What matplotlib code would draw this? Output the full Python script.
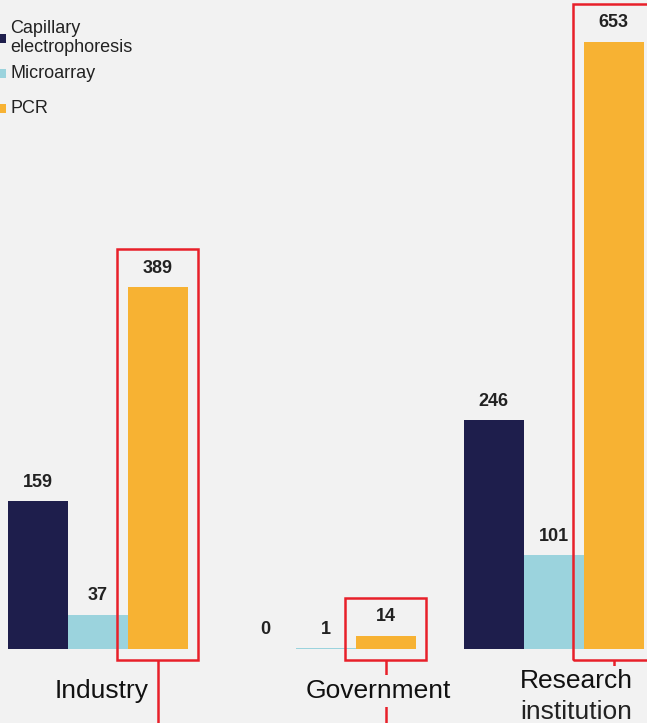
import matplotlib
matplotlib.use("Agg")
import matplotlib.pyplot as plt
from matplotlib.patches import Rectangle
import numpy as np

# data
categories = ["Industry", "Government", "Research\ninstitution"]
series_names = ["Capillary\nelectrophoresis", "Microarray", "PCR"]
capillary = [159, 0, 246]
microarray = [37, 1, 101]
pcr = [389, 14, 653]

colors = ["#1e1e4c", "#9bd3dd", "#f7b233"]
bg = "#f2f2f2"
red = "#e8202a"

plt.rcParams["font.family"] = ["Liberation Sans", "DejaVu Sans"]

W, H = 647, 723
K = 0.93          # pixels per unit on the y axis
BASE = 649        # pixel row of the baseline

fig = plt.figure(figsize=(W / 100, H / 100), dpi=100, facecolor=bg)
ax = fig.add_axes([0, 0, 1, 1])
ax.set_facecolor(bg)
ax.set_xlim(-97.5 / 60, -97.5 / 60 + W / 60)
ax.set_ylim(-(H - BASE) / K, BASE / K)
ax.axis("off")


def py(p):
    # pixel row -> data y
    return (BASE - p) / K


centers = np.arange(len(categories)) * 3.8
for j, vals in enumerate([capillary, microarray, pcr]):
    xs = centers + (j - 1)
    ax.bar(xs, vals, width=1.0, color=colors[j], zorder=2)
    for x, v in zip(xs, vals):
        ax.annotate(str(v), (x, v), xytext=(0, 19), textcoords="offset pixels",
                    ha="center", va="center", fontsize=13, fontweight="bold",
                    color="#222222", zorder=4)

# red highlight boxes around the PCR bars + connector lines
for x, v in zip(centers + 1, pcr):
    top = v + 38 / K
    bot = -11 / K
    ax.add_patch(Rectangle((x - 0.675, bot), 1.35, top - bot, fill=False,
                           edgecolor=red, linewidth=1.8, zorder=3))
    ax.plot([x, x], [bot, py(H + 5)], color=red, linewidth=1.8, zorder=1,
            solid_capstyle="butt")

# category labels
label_dx = [0.075, 0.88, 0.375]
ax.text(centers[0] + label_dx[0], py(698), "Industry", ha="center",
        va="baseline", fontsize=19, color="#111111", zorder=5)
ax.text(centers[1] + label_dx[1], py(698), "Government", ha="center",
        va="baseline", fontsize=19, color="#111111", zorder=5,
        bbox=dict(facecolor=bg, edgecolor="none", pad=3))
r1, r2 = categories[2].split("\n")
ax.text(centers[2] + label_dx[2], py(688), r1, ha="center", va="baseline",
        fontsize=19, color="#111111", zorder=5,
        bbox=dict(facecolor=bg, edgecolor="none", pad=2))
ax.text(centers[2] + label_dx[2], py(719), r2, ha="center", va="baseline",
        fontsize=19, color="#222222", zorder=5,
        bbox=dict(facecolor=bg, edgecolor="none", pad=3))

# legend
legend_rows = [38, 73.5, 108.5]
for name, c, row in zip(series_names, colors, legend_rows):
    fig.patches.append(Rectangle((0, 1 - (row + 4.5) / H), 6 / W, 9 / H,
                                 transform=fig.transFigure, facecolor=c,
                                 edgecolor="none"))
    fig.text(10 / W, 1 - row / H, name, ha="left", va="center", fontsize=13,
             color="#222222", linespacing=1.15)

fig.savefig("out.png", dpi=100, facecolor=bg)
